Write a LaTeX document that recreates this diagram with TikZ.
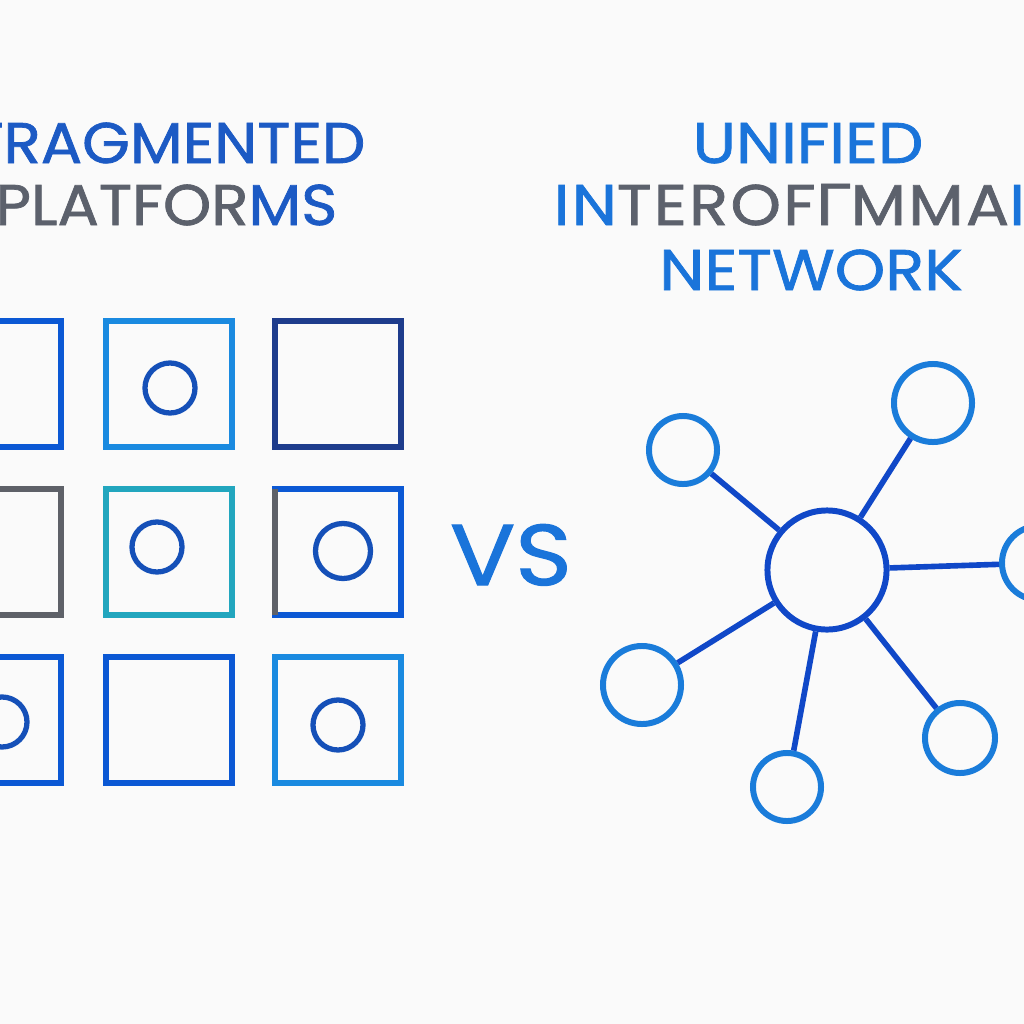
\documentclass[tikz,border=0pt]{standalone}
\usepackage{fontspec}
\setmainfont{Poppins}
\newfontfamily\leftfont{Poppins}[FakeBold=1.3, FakeStretch=1.07]
\newfontfamily\rightfont{Poppins}[FakeBold=1.3, FakeStretch=1.12]
\newfontfamily\widefont{Poppins}[FakeBold=1.3, FakeStretch=1.12, LetterSpace=4]
\newfontfamily\greekfont{Lato}[FakeBold=1.3, FakeStretch=1.12, LetterSpace=4]
\usetikzlibrary{positioning}
\definecolor{paper}{HTML}{FAFAFA}
\definecolor{titleblue}{HTML}{1C5AC4}
\definecolor{brightblue}{HTML}{1A74DA}
\definecolor{titlegrey}{HTML}{5C616C}
\definecolor{boxblue}{HTML}{0B58D4}
\definecolor{boxlight}{HTML}{1A8AE0}
\definecolor{boxnavy}{HTML}{1E3C8C}
\definecolor{boxteal}{HTML}{22A6BE}
\definecolor{boxgrey}{HTML}{5E6168}
\definecolor{ringblue}{HTML}{1550B8}
\definecolor{hubblue}{HTML}{1048C8}
\definecolor{spokeblue}{HTML}{1A7CDA}
\begin{document}
\begin{tikzpicture}[x=0.01cm,y=-0.01cm,
  title/.style={font=\fontsize{16.3}{18}\selectfont, inner sep=0pt},
  platform/.style={draw, rectangle, line width=1.7pt, minimum size=1.25cm, inner sep=0pt, outer sep=0pt},
  ring/.style={draw=ringblue, circle, line width=1.5pt, minimum size=0.5cm, inner sep=0pt},
  hub/.style={draw=hubblue, circle, line width=1.7pt, minimum size=1.19cm, inner sep=0pt},
  spoke/.style={draw=spokeblue, circle, line width=1.7pt, inner sep=0pt},
  link/.style={draw=hubblue, line width=1.6pt},
]
\fill[paper] (0,0) rectangle (1024,1024);
\useasboundingbox (0,0) rectangle (1024,1024);

% titles
\node[title, anchor=base east, text=titleblue] (fragtop) at (366,163) {\leftfont FRAGMENTED};
\node[title, anchor=base east] (fragbot) at (338,225) {\leftfont\color{titlegrey}PLATFOR\color{titleblue}MS};
\node[title, anchor=base, text=brightblue] (unitop) at (808,163) {\rightfont UNIFIED};
\node[title, anchor=base west] (unimid) at (553,225)
  {\widefont\color{brightblue}IN\color{titlegrey}TEROF{\greekfont Γ}MMA\color{brightblue}I};
\node[title, anchor=base, text=brightblue] (unibot) at (811,290) {\rightfont NETWORK};
\node[font=\rightfont\fontsize{24.5}{26}\selectfont, inner sep=0pt, anchor=base, text=brightblue] (vs) at (511,585) {VS};

% fragmented grid
\foreach \r/\yy in {1/384,2/552,3/720}
  \foreach \c/\xx in {1/-2,2/169,3/338}
    \coordinate (cell\r\c) at (\xx,\yy);
\foreach \r/\c/\col in {1/1/boxblue,1/2/boxlight,1/3/boxnavy,
                        2/1/boxgrey,2/2/boxteal,2/3/boxblue,
                        3/1/boxblue,3/2/boxblue,3/3/boxlight}
  \node[platform, draw=\col] (box\r\c) at (cell\r\c) {};
\draw[boxgrey, line width=1.7pt] (box23.north west) -- (box23.south west);
\node[ring] (ring12) at (170,388) {};
\node[ring] (ring22) at (157,547) {};
\node[ring, minimum height=0.55cm] (ring23) at (343,551) {};
\node[ring] (ring31) at (2,722) {};
\node[ring] (ring33) at (338,725) {};

% unified network
\node[hub] (hub) at (827,570) {};
\node[spoke, minimum size=0.78cm] (sptr) at (933,403) {};
\node[spoke, minimum size=0.68cm] (sptl) at (683,450) {};
\node[spoke, minimum size=0.74cm] (spr) at (1039,563) {};
\node[spoke, minimum size=0.78cm] (spbl) at (642,685) {};
\node[spoke, minimum size=0.68cm] (spb) at (787,787) {};
\node[spoke, minimum size=0.70cm] (spbr) at (960,738) {};
\foreach \s in {sptr,sptl,spr,spbl,spb,spbr}
  \draw[link] (hub) -- (\s);
\end{tikzpicture}
\end{document}
